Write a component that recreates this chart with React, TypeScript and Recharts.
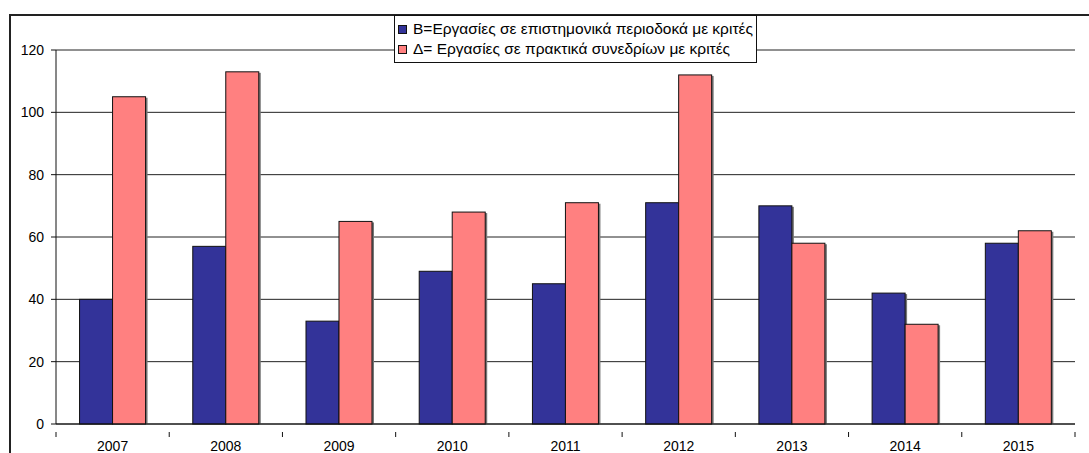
import { BarChart, Bar, XAxis, YAxis, CartesianGrid } from 'recharts';

const years = ['2007', '2008', '2009', '2010', '2011', '2012', '2013', '2014', '2015'];
const journals = [40, 57, 33, 49, 45, 71, 70, 42, 58];
const conferences = [105, 113, 65, 68, 71, 112, 58, 32, 62];
const yTicks = [0, 20, 40, 60, 80, 100, 120];

const journalLabel = 'B=Εργασίες σε επιστημονικά περιοδοκά με κριτές';
const conferenceLabel = 'Δ= Εργασίες σε πρακτικά συνεδρίων με κριτές';

const data = years.map((year, i) => ({
  year,
  journals: journals[i],
  conferences: conferences[i],
}));

const FONT = '"Liberation Sans", Arial, sans-serif';
const HALF_BAND = (1075 - 56) / years.length / 2;

function ShadowBar(props: any) {
  const { x, y, width, height, fill } = props;
  if (!height || height <= 0) return null;
  return (
    <g>
      <rect x={x + 2} y={y + 1} width={width} height={height - 1} fill="#777" />
      <rect x={x} y={y} width={width} height={height} fill={fill} stroke="#111" strokeWidth={1} />
    </g>
  );
}

function YearTick(props: any) {
  const { x, y, payload, index } = props;
  const last = index === years.length - 1;
  return (
    <g>
      <line x1={x - HALF_BAND} y1={y} x2={x - HALF_BAND} y2={y + 5} stroke="#111" />
      {last && <line x1={x + HALF_BAND} y1={y} x2={x + HALF_BAND} y2={y + 5} stroke="#111" />}
      <text x={x} y={y + 19} textAnchor="middle" fontSize={14} fill="#000" fontFamily={FONT}>
        {payload.value}
      </text>
    </g>
  );
}

function LegendBox() {
  const row = (color: string, label: string) => (
    <div style={{ display: 'flex', alignItems: 'center', height: 20 }}>
      <span
        style={{
          display: 'inline-block',
          width: 7,
          height: 7,
          background: color,
          border: '1px solid #111',
          marginRight: 6,
        }}
      />
      <span>{label}</span>
    </div>
  );
  return (
    <div
      style={{
        position: 'absolute',
        left: 394,
        top: 15,
        width: 363,
        height: 48,
        boxSizing: 'border-box',
        border: '1px solid #111',
        background: '#fff',
        padding: '3px 0 0 3px',
        fontFamily: FONT,
        fontSize: 15.5,
        color: '#000',
        whiteSpace: 'nowrap',
      }}
    >
      {row('#333399', journalLabel)}
      {row('#FF8080', conferenceLabel)}
    </div>
  );
}

export default function App() {
  return (
    <div style={{ position: 'absolute', left: 0, top: 0, width: 1089, height: 453, overflow: 'hidden', background: '#fff' }}>
      <div
        style={{
          position: 'absolute',
          left: 9,
          top: 14,
          width: 1200,
          height: 600,
          borderLeft: '2px solid #222',
          borderTop: '2px solid #222',
        }}
      />
      <div style={{ position: 'absolute', left: 0, top: 0 }}>
        <BarChart
          width={1089}
          height={453}
          data={data}
          margin={{ top: 50, right: 14, bottom: 0, left: 0 }}
          barCategoryGap="20.8%"
          barGap={0}
        >
          <CartesianGrid vertical={false} stroke="#222" strokeWidth={1} />
          <XAxis
            dataKey="year"
            axisLine={{ stroke: '#111' }}
            tickLine={false}
            tick={<YearTick />}
            interval={0}
            height={29}
          />
          <YAxis
            width={56}
            domain={[0, 120]}
            ticks={yTicks}
            axisLine={{ stroke: '#111' }}
            tickLine={{ stroke: '#111' }}
            tickSize={5}
            tickMargin={7}
            tick={{ fontSize: 14, fill: '#000', fontFamily: FONT }}
          />
          <Bar dataKey="journals" name={journalLabel} fill="#333399" shape={<ShadowBar />} isAnimationActive={false} />
          <Bar dataKey="conferences" name={conferenceLabel} fill="#FF8080" shape={<ShadowBar />} isAnimationActive={false} />
        </BarChart>
      </div>
      <LegendBox />
    </div>
  );
}
